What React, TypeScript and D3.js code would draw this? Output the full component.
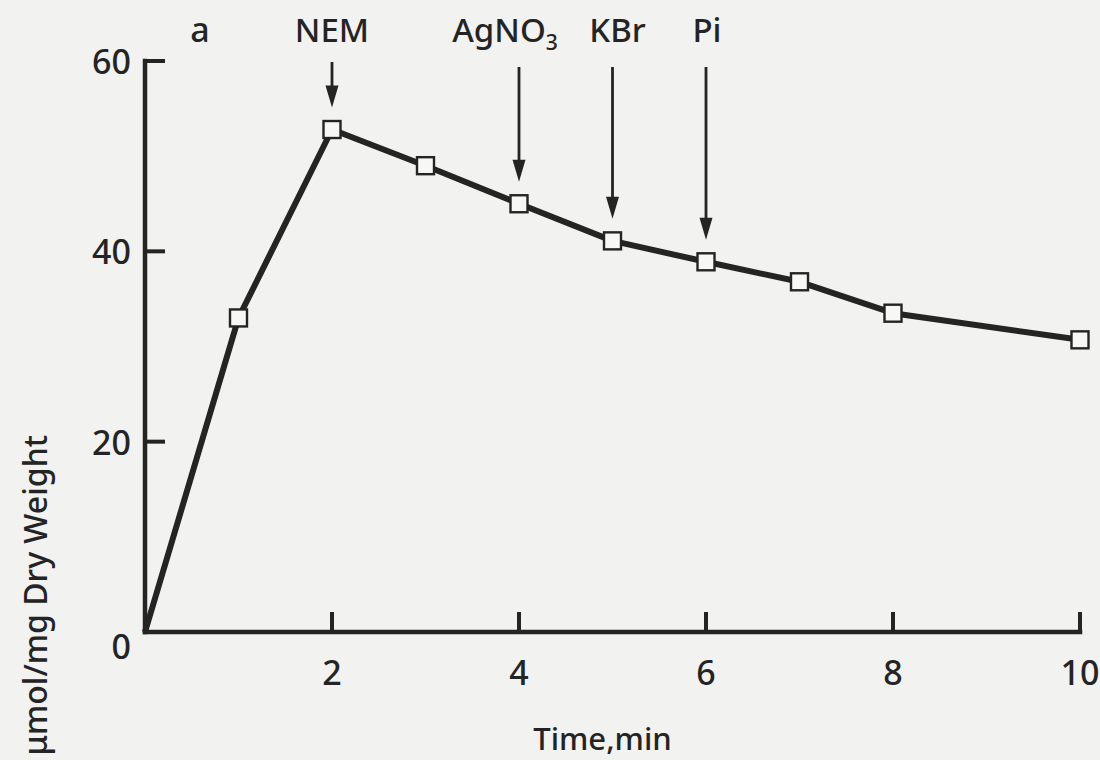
import React from "react";
import * as d3 from "d3";

// Uptake time course (min vs. µmol/mg dry weight)
const times = [0, 1, 2, 3, 4, 5, 6, 7, 8, 10];
const uptake = [0, 33.0, 52.8, 49.0, 45.0, 41.1, 38.9, 36.8, 33.5, 30.7];

const xTicks = [2, 4, 6, 8, 10];
const yTicks = [0, 20, 40, 60];

// Additions marked with arrows
const additionTimes = [2, 4, 5, 6];
const additionLabels = ["NEM", "AgNO3", "KBr", "Pi"];

const W = 1100;
const H = 760;
const INK = "#242424";
const FONT = "'Noto Sans', 'DejaVu Sans', sans-serif";

export default function App() {
  const x = d3.scaleLinear().domain([0, 10]).range([145, 1080]);
  const y = d3.scaleLinear().domain([0, 60]).range([632, 61]);

  const pts = times.map((t, i) => ({ t, v: uptake[i] }));
  const line = d3
    .line<{ t: number; v: number }>()
    .x((d) => x(d.t))
    .y((d) => y(d.v));

  const valueAt = (t: number) => uptake[times.indexOf(t)];
  const labelShift: Record<string, number> = { NEM: 0, AgNO3: -14, KBr: 5, Pi: 1 };

  const tickLen = 18;
  const box = 17;

  return (
    <svg
      width={W}
      height={H}
      viewBox={`0 0 ${W} ${H}`}
      style={{ position: "absolute", left: 0, top: 0, display: "block" }}
    >
      <rect x={0} y={0} width={W} height={H} fill="#f2f2f1" />

      {/* axes */}
      <g stroke={INK} strokeWidth={4.5} fill="none" strokeLinecap="square">
        <line x1={x(0)} y1={y(0)} x2={x(0)} y2={y(60)} />
        <line x1={x(0)} y1={y(0)} x2={x(10)} y2={y(0)} />
        {yTicks
          .filter((v) => v > 0)
          .map((v) => (
            <line key={`yt${v}`} x1={x(0)} y1={y(v)} x2={x(0) + tickLen} y2={y(v)} strokeWidth={4} />
          ))}
        {xTicks.map((t) => (
          <line key={`xt${t}`} x1={x(t)} y1={y(0)} x2={x(t)} y2={y(0) - tickLen} strokeWidth={4} />
        ))}
      </g>

      {/* tick labels */}
      <g fill={INK} fontFamily={FONT} fontSize={34} fontWeight={500}>
        {yTicks.map((v) => (
          <text
            key={`yl${v}`}
            x={x(0) - 14}
            y={y(v) + (v === 0 ? 14 : 0)}
            textAnchor="end"
            dominantBaseline="central"
          >
            {v}
          </text>
        ))}
        {xTicks.map((t) => (
          <text key={`xl${t}`} x={x(t)} y={685} textAnchor="middle">
            {t}
          </text>
        ))}
      </g>

      {/* axis titles */}
      <text x={x(5) - 10} y={750} fontFamily={FONT} fontSize={31} fontWeight={500} fill={INK} textAnchor="middle">
        Time,min
      </text>
      <text
        transform={`translate(47, 435) rotate(-90)`}
        fontFamily={FONT}
        fontSize={32}
        fontWeight={500}
        fill={INK}
        textAnchor="end"
      >
        μmol/mg Dry Weight
      </text>

      {/* panel letter */}
      <text x={200} y={42} fontFamily={FONT} fontSize={34} fontWeight={500} fill={INK} textAnchor="middle">
        a
      </text>

      {/* data line */}
      <path d={line(pts) || ""} fill="none" stroke={INK} strokeWidth={6} strokeLinejoin="round" />
      {pts
        .filter((d) => d.t > 0)
        .map((d) => (
          <rect
            key={`m${d.t}`}
            x={x(d.t) - box / 2}
            y={y(d.v) - box / 2}
            width={box}
            height={box}
            fill="#f7f7f6"
            stroke={INK}
            strokeWidth={2.4}
          />
        ))}

      {/* addition arrows */}
      {additionTimes.map((t, i) => {
        const ax = x(t);
        const tip = y(valueAt(t)) - 22;
        const top = i === 0 ? 62 : 67;
        const label = additionLabels[i];
        const sub = label.match(/^(.*?)(\d+)$/);
        return (
          <g key={`a${t}`}>
            <line x1={ax} y1={top} x2={ax} y2={tip - 16} stroke={INK} strokeWidth={2.8} />
            <path d={`M${ax - 6.5},${tip - 22} L${ax + 6.5},${tip - 22} L${ax},${tip} Z`} fill={INK} />
            <text
              x={ax + labelShift[label]}
              y={42}
              fontFamily={FONT}
              fontSize={33}
              fontWeight={500}
              fill={INK}
              textAnchor="middle"
            >
              {sub ? (
                <>
                  {sub[1]}
                  <tspan fontSize={21} dy={8}>
                    {sub[2]}
                  </tspan>
                </>
              ) : (
                label
              )}
            </text>
          </g>
        );
      })}
    </svg>
  );
}
